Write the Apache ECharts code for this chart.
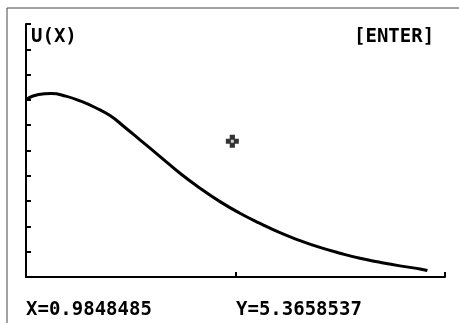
<!DOCTYPE html>
<html>
<head>
<meta charset="utf-8">
<script src="https://cdn.jsdelivr.net/npm/echarts@6/dist/echarts.min.js"></script>
<style>
html,body{margin:0;padding:0;background:#fff;}
#chart{width:459px;height:323px;}
</style>
</head>
<body>
<div id="chart"></div>
<script>
// Curve U(X)
var xValues = [0, 0.06, 0.12, 0.19, 0.258, 0.33, 0.401, 0.47, 0.544, 0.640, 0.735, 0.831, 0.926, 1.021, 1.117, 1.212, 1.308, 1.403, 1.499, 1.594, 1.690, 1.785, 1.881, 1.916];
var yValues = [7.02, 7.21, 7.25, 7.15, 6.96, 6.70, 6.38, 5.93, 5.42, 4.76, 4.10, 3.51, 2.98, 2.52, 2.12, 1.75, 1.44, 1.17, 0.94, 0.74, 0.58, 0.44, 0.32, 0.26];
// Free-moving cursor
var cursorX = 0.9848485;
var cursorY = 5.3658537;
var functionLabel = 'U(X)';
var promptLabel = '[ENTER]';
var xMin = 0, xMax = 2, xStep = 1;
var yMin = 0, yMax = 10, yStep = 1;

var curve = xValues.map(function (x, i) { return [x, yValues[i]]; });
var font = '"DejaVu Sans Mono", monospace';

var chart = echarts.init(document.getElementById('chart'), null, {renderer: 'canvas'});
chart.setOption({
  animation: false,
  backgroundColor: '#fff',
  grid: {left: 26, top: 24, right: 14, bottom: 46},
  xAxis: {
    type: 'value', min: xMin, max: xMax, interval: xStep,
    axisLine: {show: true, lineStyle: {color: '#000', width: 2}},
    axisTick: {show: true, inside: true, length: 5, lineStyle: {color: '#000', width: 2}},
    axisLabel: {show: false},
    splitLine: {show: false}
  },
  yAxis: {
    type: 'value', min: yMin, max: yMax, interval: yStep,
    axisLine: {show: true, lineStyle: {color: '#000', width: 2}},
    axisTick: {show: true, inside: true, length: 5, lineStyle: {color: '#000', width: 2}},
    axisLabel: {show: false},
    splitLine: {show: false}
  },
  graphic: [
    {type: 'line', shape: {x1: 7, y1: 8, x2: 470, y2: 8}, style: {stroke: '#444', lineWidth: 1}},
    {type: 'line', shape: {x1: 7, y1: 8, x2: 7, y2: 340}, style: {stroke: '#444', lineWidth: 1}},
    {type: 'text', left: 31, top: 28, style: {text: functionLabel, font: 'bold 19px ' + font, fill: '#000'}},
    {type: 'text', left: 354, top: 28, style: {text: promptLabel, font: 'bold 19px ' + font, fill: '#000'}},
    {type: 'text', left: 26, top: 301, style: {text: 'X=' + cursorX, font: 'bold 19px ' + font, fill: '#000'}},
    {type: 'text', left: 236, top: 301, style: {text: 'Y=' + cursorY, font: 'bold 19px ' + font, fill: '#000'}}
  ],
  series: [
    {
      type: 'line', data: curve, smooth: 0.5, symbol: 'none',
      lineStyle: {color: '#000', width: 3}
    },
    {
      type: 'scatter', data: [[cursorX, cursorY]],
      symbol: 'path://M3,0 L7,0 L7,3 L10,3 L10,7 L7,7 L7,10 L3,10 L3,7 L0,7 L0,3 L3,3 Z',
      symbolSize: 13,
      itemStyle: {color: '#000'}
    },
    {
      type: 'scatter', data: [[cursorX, cursorY]],
      symbol: 'rect', symbolSize: 3,
      itemStyle: {color: '#fff'}
    }
  ]
});
</script>
</body>
</html>
